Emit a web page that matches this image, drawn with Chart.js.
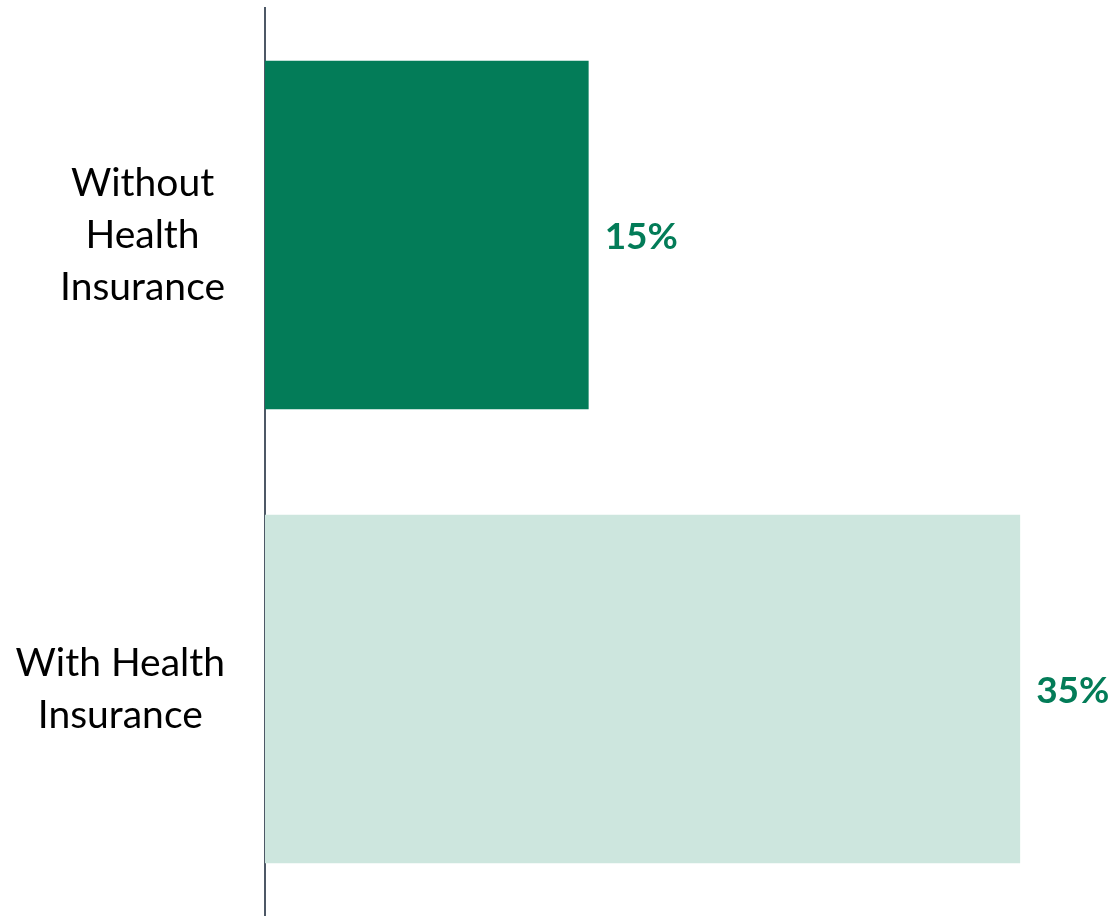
<!DOCTYPE html>
<html>
<head>
<meta charset="utf-8">
<script src="https://cdn.jsdelivr.net/npm/chart.js@4/dist/chart.umd.min.js"></script>
<style>
  html, body { margin: 0; padding: 0; background: #fff; }
  #wrap { width: 1114px; height: 916px; }
</style>
</head>
<body>
<div id="wrap"><canvas id="myChart" width="1114" height="916"></canvas></div>
<script>
const categories = [["Without", "Health", "Insurance"], ["With Health", "Insurance"]];
const shares = [15, 35];
const barColors = ["#037c58", "#cde6de"];

const labelFont = "39px Lato, 'Open Sans', sans-serif";
const valueFont = "bold 37px Lato, 'Open Sans', sans-serif";

// draws the category names and the value labels next to the bars
const textPlugin = {
  id: "textPlugin",
  afterDraw(chart) {
    const ctx = chart.ctx;
    const yScale = chart.scales.y;
    const meta = chart.getDatasetMeta(0);
    ctx.save();
    ctx.textBaseline = "middle";

    ctx.font = labelFont;
    ctx.fillStyle = "#000";
    ctx.textAlign = "center";
    categories.forEach((lines, i) => {
      const yc = yScale.getPixelForValue(i);
      let widest = 0;
      lines.forEach((l) => { widest = Math.max(widest, ctx.measureText(l).width); });
      const cx = chart.chartArea.left - 40 - widest / 2;
      const lh = 52;
      const top = yc - (lines.length - 1) * lh / 2;
      lines.forEach((l, k) => ctx.fillText(l, cx, top + k * lh));
    });

    ctx.font = valueFont;
    ctx.fillStyle = "#037c58";
    ctx.textAlign = "left";
    meta.data.forEach((bar, i) => {
      ctx.fillText(shares[i] + "%", bar.x + 16, bar.y + 2);
    });
    ctx.restore();
  }
};

const ctx = document.getElementById("myChart").getContext("2d");
const myChart = new Chart(ctx, {
  type: "bar",
  data: {
    labels: categories,
    datasets: [
      {
        data: shares,
        backgroundColor: barColors,
        borderWidth: 0,
        categoryPercentage: 1,
        barPercentage: 0.768,
      },
    ],
  },
  options: {
    indexAxis: "y",
    responsive: false,
    animation: false,
    layout: { padding: { left: 257, top: 8, right: 0, bottom: -4 } },
    plugins: { legend: { display: false }, tooltip: { enabled: false } },
    scales: {
      x: { display: false, min: 0, max: 39.35 },
      y: {
        z: 1,
        grid: { display: false },
        ticks: { display: false },
        border: { display: true, color: "#4d5866", width: 2 },
      },
    },
  },
  plugins: [textPlugin],
});
</script>
</body>
</html>
